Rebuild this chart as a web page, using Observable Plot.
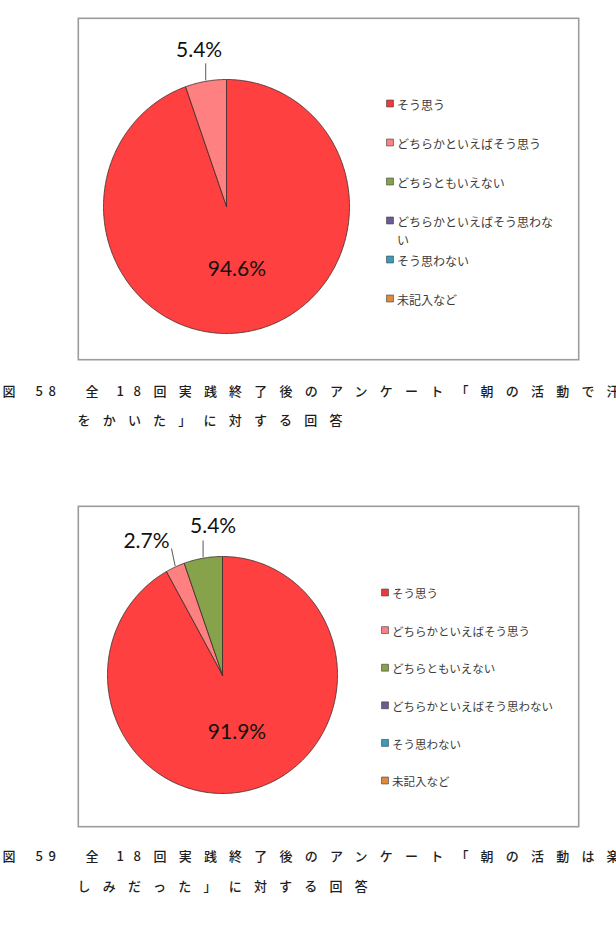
<!DOCTYPE html>
<html>
<head>
<meta charset="utf-8">
<script src="https://cdn.jsdelivr.net/npm/d3@7"></script>
<script src="https://cdn.jsdelivr.net/npm/@observablehq/plot@0.6"></script>
<style>
  html, body { margin: 0; padding: 0; background: #fff; }
  body { width: 616px; height: 949px; position: relative; overflow: hidden; }
  .chart { position: absolute; }
  .cap { position: absolute; font-family: "Noto Sans CJK JP", sans-serif; font-size: 13px; font-weight: 500;
         color: #1e1e1e; line-height: 13px; white-space: pre; }
</style>
</head>
<body>
<script>
// ---------- data ----------
const categories = ["そう思う", "どちらかといえばそう思う", "どちらともいえない",
                    "どちらかといえばそう思わない", "そう思わない", "未記入など"];
const values58 = [94.6, 5.4, 0, 0, 0, 0];
const values59 = [91.9, 2.7, 5.4, 0, 0, 0];
const caption58Line1 = ["図", "58", "全", "18", "回実践終了後のアンケート「朝の活動で汗"];
const caption58Line2 = ["をかいた」に対する回答"];
const caption59Line1 = ["図", "59", "全", "18", "回実践終了後のアンケート「朝の活動は楽"];
const caption59Line2 = ["しみだった」に対する回答"];

// ---------- styles ----------
const sliceColors = ["#ff4040", "#ff8080", "#86a24a", "#6c5a96", "#3a9cb8", "#e08a3a"];
const legendColors = ["#ee3a3a", "#ff8080", "#86a24a", "#6c5a96", "#3a9cb8", "#e08a3a"];

function pieChart(values, L) {
  const rows = categories.map((c, i) => ({cat: c, value: values[i]}));
  const arcs = d3.pie().sort(null).value(d => d.value)(rows).filter(a => a.data.value > 0);
  const pt = (t, k = 1) => [L.cx + k * L.rx * Math.sin(t), L.cy - k * L.ry * Math.cos(t)];
  const pts = [];
  for (const a of arcs) {
    const n = Math.max(2, Math.ceil((a.endAngle - a.startAngle) / 0.01));
    pts.push({cat: a.data.cat, x: L.cx, y: L.cy});
    for (let j = 0; j <= n; j++) {
      const [x, y] = pt(a.startAngle + (a.endAngle - a.startAngle) * j / n);
      pts.push({cat: a.data.cat, x, y});
    }
    pts.push({cat: a.data.cat, x: L.cx, y: L.cy});
  }
  const fmt = v => v.toFixed(1) + "%";
  const labels = [], leaders = [];
  for (const a of arcs) {
    const mid = (a.startAngle + a.endAngle) / 2;
    const off = L.outside[a.data.cat];
    if (off) {
      const [ex, ey] = pt(mid);
      labels.push({x: ex + off.label[0], y: ey + off.label[1], t: fmt(a.data.value)});
      leaders.push({x1: ex, y1: ey - 1, x2: ex + off.leader[0], y2: ey + off.leader[1]});
    } else {
      const [x, y] = pt(mid, 0.5);
      labels.push({x, y, t: fmt(a.data.value)});
    }
  }
  const wrap = s => s.length > L.maxChars ? s.slice(0, L.maxChars) + "\n" + s.slice(L.maxChars) : s;
  const legend = categories.map((c, i) => ({cat: c, x: L.lx, tx: L.lx + 7, y: L.ly + i * L.lstep, t: wrap(c)}));

  return Plot.plot({
    width: L.w, height: L.h, margin: 0,
    x: {domain: [0, L.w], range: [0, L.w], axis: null},
    y: {domain: [0, L.h], range: [0, L.h], axis: null},
    color: {domain: categories, range: sliceColors},
    style: {background: "#fff", overflow: "visible"},
    marks: [
      Plot.frame({stroke: "#9c9c9c", strokeWidth: 1.6, inset: 0.8}),
      Plot.line(pts, {x: "x", y: "y", z: "cat", fill: "cat", stroke: "#3a2a2a", strokeWidth: 0.8, strokeLinejoin: "miter"}),
      Plot.link(leaders, {x1: "x1", y1: "y1", x2: "x2", y2: "y2", stroke: "#444", strokeWidth: 0.9}),
      Plot.text(labels, {x: "x", y: "y", text: "t", fontSize: 21, fontFamily: "Lato, 'Open Sans', sans-serif", fill: "#111"}),
      Plot.dot(legend, {x: "x", y: "y", symbol: "square", r: 3.9, fill: (d, i) => legendColors[i], stroke: "#3a3a3a", strokeWidth: 0.6}),
      Plot.text(legend, {x: "tx", y: d => d.y - 6.5, text: "t", textAnchor: "start", lineAnchor: "top",
        lineHeight: 1.5, fontSize: L.fs, fontFamily: "'Noto Sans CJK JP', sans-serif", fill: "#3c3c3c"})
    ]
  });
}

function place(el, left, top) {
  const d = document.createElement("div");
  d.className = "chart"; d.style.left = left + "px"; d.style.top = top + "px";
  d.appendChild(el); document.body.appendChild(d);
}

const layout58 = {w: 502, h: 343, cx: 149, cy: 189, rx: 123, ry: 127, lx: 312.5, ly: 86, lstep: 39, fs: 12, maxChars: 13,
  outside: {"どちらかといえばそう思う": {label: [-6.6, -31], leader: [0, -18]}}};
const layout59 = {w: 502, h: 322, cx: 145, cy: 169.5, rx: 115, ry: 118.5, lx: 307.5, ly: 87, lstep: 37.6, fs: 11.5, maxChars: 20,
  outside: {"どちらかといえばそう思う": {label: [-28.7, -25.8], leader: [-3.7, -18.5]},
            "どちらともいえない": {label: [10, -31.7], leader: [0, -17.7]}}};

place(pieChart(values58, layout58), 77, 17);
place(pieChart(values59, layout59), 77, 505);

// captions
const seg1 = [{left: 2.5, ls: 0}, {left: 35.4, ls: 5.8}, {left: 85.5, ls: 0}, {left: 116.4, ls: 9.8}, {left: 153.5, ls: 12.2}];
const seg2 = [{left: 77.5, ls: 12.2}];
function caption(parts, segs, centerY) {
  parts.forEach((p, i) => {
    const s = document.createElement("div");
    s.className = "cap"; s.textContent = p;
    s.style.left = segs[i].left + "px"; s.style.top = (centerY - 7) + "px";
    s.style.letterSpacing = segs[i].ls + "px";
    document.body.appendChild(s);
  });
}
caption(caption58Line1, seg1, 391);
caption(caption58Line2, seg2, 420);
caption(caption59Line1, seg1, 856);
caption(caption59Line2, seg2, 886);
</script>
</body>
</html>
